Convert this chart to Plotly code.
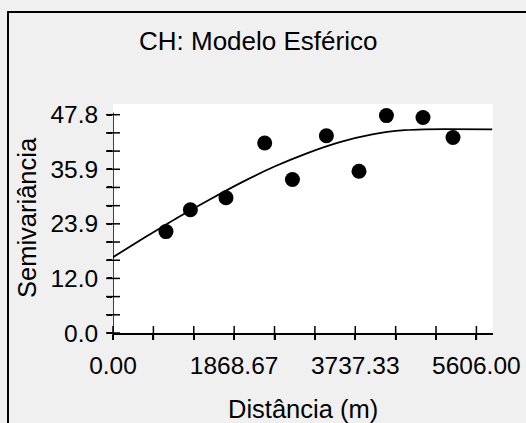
import plotly.graph_objects as go

# ---- data ----
dist = [817, 1194, 1743, 2340, 2768, 3292, 3795, 4218, 4782, 5245]
semivar = [22.2, 27.0, 29.6, 41.6, 33.6, 43.2, 35.4, 47.6, 47.2, 42.8]

model_h = [0, 500, 1000, 1500, 2000, 2500, 3000, 3500, 4000, 4500, 4800, 5850]
model_g = [16.6, 21.0, 25.3, 29.3, 33.1, 36.5, 39.4, 41.8, 43.5, 44.4, 44.6, 44.6]

x_ticks = [0, 622.89, 1245.78, 1868.67, 2491.56, 3114.44, 3737.33, 4360.22, 4983.11, 5606.00]
x_labels = ["0.00", "", "", "1868.67", "", "", "3737.33", "", "", "5606.00"]
y_ticks = [0, 3.98, 7.97, 11.95, 15.93, 19.92, 23.90, 27.88, 31.87, 35.85, 39.83, 43.82, 47.80]
y_labels = ["0.0", "", "", "12.0", "", "", "23.9", "", "", "35.9", "", "", "47.8"]

title = "CH: Modelo Esférico"
x_title = "Distância (m)"
y_title = "Semivariância"

FONT = "Arial, 'Liberation Sans', sans-serif"
W, H = 526, 423
L, R, T, B = 113, 33, 104, 90
pw, ph = W - L - R, H - T - B

def px2paper_x(px):
    return (px - L) / pw

def py2paper_y(py):
    return (H - B - py) / ph

fig = go.Figure()

# model curve
fig.add_trace(go.Scatter(x=model_h, y=model_g, mode="lines",
                         line=dict(color="black", width=1.8, shape="spline", smoothing=0.5),
                         hoverinfo="skip", showlegend=False))
# experimental points
fig.add_trace(go.Scatter(x=dist, y=semivar, mode="markers",
                         marker=dict(color="black", size=15, symbol="circle"),
                         showlegend=False))
# inner half of the crossing tick marks
fig.add_trace(go.Scatter(x=x_ticks, y=[0] * len(x_ticks), mode="markers",
                         marker=dict(symbol="line-ns", size=10, line=dict(color="black", width=1.5)),
                         cliponaxis=False, hoverinfo="skip", showlegend=False))
fig.add_trace(go.Scatter(x=[0] * len(y_ticks), y=y_ticks, mode="markers",
                         marker=dict(symbol="line-ew", size=10, line=dict(color="black", width=1.5)),
                         cliponaxis=False, hoverinfo="skip", showlegend=False))

fig.update_layout(
    width=W, height=H,
    margin=dict(l=L, r=R, t=T, b=B, autoexpand=False),
    paper_bgcolor="#f0f0f0",
    plot_bgcolor="white",
    font=dict(family=FONT, size=24.5, color="black"),
    showlegend=False,
    xaxis=dict(range=[0, 5862], tickmode="array", tickvals=x_ticks, ticktext=x_labels,
               showgrid=False, zeroline=False, showline=True, linecolor="black", linewidth=1.5,
               ticks="outside", ticklen=5, tickwidth=1.5, tickcolor="black",
               ticklabelstandoff=5,
               tickfont=dict(size=24.5), automargin=False),
    yaxis=dict(range=[0, 50.14], tickmode="array", tickvals=y_ticks, ticktext=y_labels,
               showgrid=False, zeroline=False, showline=False,
               ticks="outside", ticklen=5, tickwidth=1.5, tickcolor="black",
               ticklabelstandoff=4,
               tickfont=dict(size=24.5), automargin=False),
    shapes=[
        # y axis line (stops just above top tick)
        dict(type="line", xref="x", yref="y", x0=0, x1=0, y0=0, y1=48.3,
             line=dict(color="black", width=1.5)),
        # outer black frame (left & top edges visible)
        dict(type="rect", xref="paper", yref="paper",
             x0=px2paper_x(8), x1=px2paper_x(540), y0=py2paper_y(440), y1=py2paper_y(12),
             line=dict(color="black", width=2), fillcolor="rgba(0,0,0,0)"),
    ],
    annotations=[
        dict(text=title, xref="paper", yref="paper", x=px2paper_x(258), y=py2paper_y(41),
             xanchor="center", yanchor="middle", showarrow=False, font=dict(size=26)),
        dict(text=x_title, xref="paper", yref="paper", x=px2paper_x(303), y=py2paper_y(409),
             xanchor="center", yanchor="middle", showarrow=False, font=dict(size=25.5)),
        dict(text=y_title, xref="paper", yref="paper", x=px2paper_x(27), y=py2paper_y(218),
             xanchor="center", yanchor="middle", textangle=-90, showarrow=False, font=dict(size=25.5)),
    ],
)

fig.write_html("out.html")
